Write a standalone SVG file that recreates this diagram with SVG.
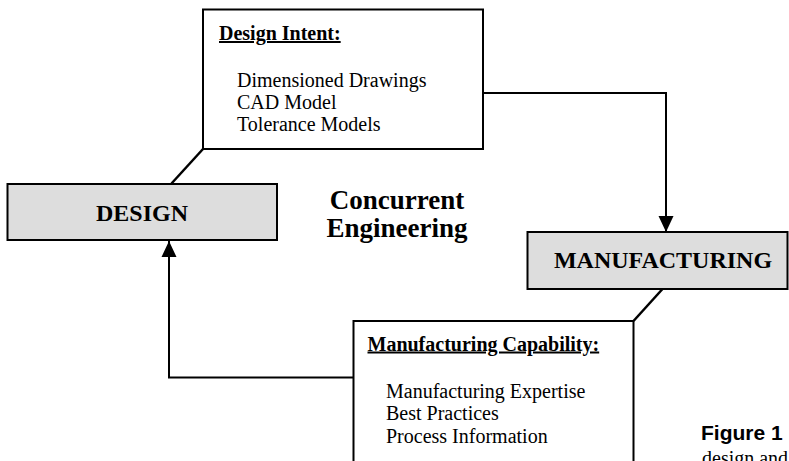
<svg xmlns="http://www.w3.org/2000/svg" width="789" height="461" viewBox="0 0 789 461">
<style>
  .box { fill: #ffffff; stroke: #000000; stroke-width: 2; }
  .gbox { fill: #dddddd; stroke: #000000; stroke-width: 2; }
  .conn { fill: none; stroke: #000000; stroke-width: 2; }
  .diag { fill: none; stroke: #000000; stroke-width: 2.5; }
  .title { font-family: "Liberation Serif", "Times New Roman", serif; font-size: 20px; font-weight: bold; text-decoration: underline; fill: #000; }
  .body { font-family: "Liberation Serif", "Times New Roman", serif; font-size: 20px; fill: #000; }
  .big { font-family: "Liberation Serif", "Times New Roman", serif; font-size: 24px; font-weight: bold; fill: #000; text-anchor: middle; }
  .ce { font-family: "Liberation Serif", "Times New Roman", serif; font-size: 27px; font-weight: bold; fill: #000; text-anchor: middle; }
  .fig { font-family: "Liberation Sans", Arial, sans-serif; font-size: 21px; font-weight: bold; fill: #000; }
</style>
<defs>
  <marker id="arrow" viewBox="0 0 16 16" refX="16" refY="8" markerWidth="16" markerHeight="16" markerUnits="userSpaceOnUse" orient="auto">
    <path d="M0,0.5 L16,8 L0,15.5 z" fill="#000000"/>
  </marker>
</defs>
<rect width="789" height="461" fill="#ffffff"/>

<g id="connectors">
  <path class="conn" d="M483,93 H666 V232" marker-end="url(#arrow)"/>
  <path class="conn" d="M353,377.5 H169 V241" marker-end="url(#arrow)"/>
  <path class="diag" d="M203,149 L171.5,183.5"/>
  <path class="diag" d="M662.5,289 L633.5,321"/>
</g>

<g id="design-intent">
  <rect class="box" x="203" y="9.5" width="280" height="139.5"/>
  <text class="title" x="219" y="40">Design Intent:</text>
  <text class="body" x="237" y="86.5">Dimensioned Drawings</text>
  <text class="body" x="237" y="108.5">CAD Model</text>
  <text class="body" x="237" y="131">Tolerance Models</text>
</g>

<g id="design">
  <rect class="gbox" x="7.5" y="184" width="269.5" height="56"/>
  <text class="big" x="142" y="220.5">DESIGN</text>
</g>

<g id="concurrent-engineering">
  <text class="ce" x="397" y="209">Concurrent</text>
  <text class="ce" x="397" y="237">Engineering</text>
</g>

<g id="manufacturing">
  <rect class="gbox" x="527.5" y="232" width="260" height="57"/>
  <text class="big" x="663" y="268">MANUFACTURING</text>
</g>

<g id="manufacturing-capability">
  <rect class="box" x="353.5" y="321" width="280" height="200"/>
  <text class="title" x="367.5" y="350.5">Manufacturing Capability:</text>
  <text class="body" x="386" y="398">Manufacturing Expertise</text>
  <text class="body" x="386" y="420">Best Practices</text>
  <text class="body" x="386" y="442.5">Process Information</text>
</g>

<g id="caption">
  <text class="fig" x="701" y="440">Figure 1</text>
  <text class="body" x="702" y="465">design and</text>
</g>
</svg>
